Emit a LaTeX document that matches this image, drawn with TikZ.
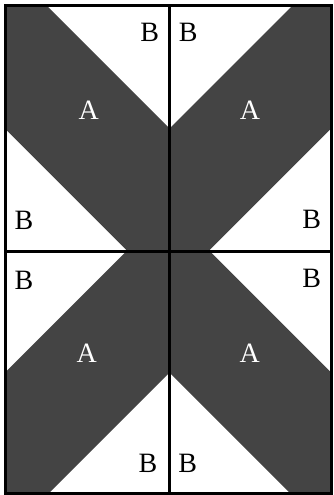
\documentclass[tikz,border=0pt]{standalone}
\usepackage{fontspec}
\setmainfont{Liberation Serif}
\definecolor{slate}{HTML}{444444}

\begin{document}
\begin{tikzpicture}[x=1pt,y=-1pt, every node/.style={font=\fontsize{28}{28}\selectfont,inner sep=0pt}, band/.style={fill=slate}, frame/.style={draw=black,line width=3pt}, patch/.style={text=white}, ground/.style={text=black}]
\useasboundingbox (0,0) rectangle (333,495);
% dark bands, one per quarter
\fill[band] (5,5.5)--(46.5,5.5)--(169.5,128.5)--(169.5,251.5)--(128,251.5)--(5,128.5)--cycle;
\fill[band] (331,5.5)--(292.5,5.5)--(169.5,128.5)--(169.5,251.5)--(208,251.5)--(331,128.5)--cycle;
\fill[band] (5,493.5)--(5,372.5)--(126,251.5)--(169.5,251.5)--(169.5,372.5)--(48.5,493.5)--cycle;
\fill[band] (169.5,251.5)--(210,251.5)--(331,372.5)--(331,493.5)--(290.5,493.5)--(169.5,372.5)--cycle;
% seams
\draw[frame] (5,5.5) rectangle (331,493.5);
\draw[frame] (169.5,5.5)--(169.5,493.5);
\draw[frame] (5,251.5)--(331,251.5);
% labels
\node[patch] (a1) at (88.8,110) {A};
\node[patch] (a2) at (250,110) {A};
\node[patch] (a3) at (86.7,353) {A};
\node[patch] (a4) at (249.8,353) {A};
\node[ground] (b1) at (149.7,32.5) {B};
\node[ground] (b2) at (24,220) {B};
\node[ground] (b3) at (188.3,32.5) {B};
\node[ground] (b4) at (311.7,219) {B};
\node[ground] (b5) at (24,280) {B};
\node[ground] (b6) at (148,463) {B};
\node[ground] (b7) at (311.7,278) {B};
\node[ground] (b8) at (187.6,463) {B};
\end{tikzpicture}
\end{document}
